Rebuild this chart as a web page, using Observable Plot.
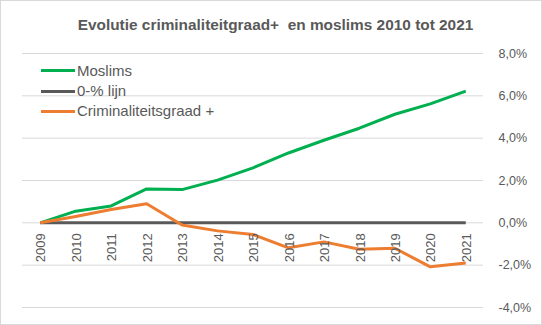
<!DOCTYPE html>
<html>
<head>
<meta charset="utf-8">
<script src="https://cdn.jsdelivr.net/npm/d3@7"></script>
<script src="https://cdn.jsdelivr.net/npm/@observablehq/plot@0.6"></script>
<style>
  body { margin: 0; background: white; }
  #wrap { position: relative; width: 542px; height: 325px; overflow: hidden; background: white; font-family: "Liberation Sans", Arial, sans-serif; }
  #title { position: absolute; left: 9px; width: 533px; top: 16px; text-align: center; font-weight: bold; font-size: 15.4px; color: #595959; white-space: nowrap; }
  #chart { position: absolute; left: 0; top: 40px; }
  .lg { position: absolute; left: 41px; font-size: 15px; color: #595959; white-space: nowrap; line-height: normal; }
  .lg span.sw { display: inline-block; width: 34px; height: 3px; vertical-align: middle; margin-right: 2px; position: relative; top: -1px; }
  #border { position: absolute; left: 0; top: 0; width: 542px; height: 325px; box-sizing: border-box; border: 1px solid #d9d9d9; pointer-events: none; }
</style>
</head>
<body>
<div id="wrap">
  <div id="title">Evolutie criminaliteitgraad+&nbsp; en moslims 2010 tot 2021</div>
  <div id="chart"></div>
  <div id="legend"></div>
  <div id="border"></div>
</div>
<script>
const years = ["2009","2010","2011","2012","2013","2014","2015","2016","2017","2018","2019","2020","2021"];
const moslims = [0, 0.55, 0.8, 1.6, 1.57, 2.02, 2.6, 3.3, 3.9, 4.47, 5.13, 5.62, 6.22];
const nulLijn = [0, 0, 0, 0, 0, 0, 0, 0, 0, 0, 0, 0, 0];
const criminaliteit = [0, 0.3, 0.63, 0.9, -0.1, -0.38, -0.55, -1.18, -0.9, -1.25, -1.2, -2.08, -1.9];
const yTicks = [-4, -2, 0, 2, 4, 6, 8];
const seriesNames = ["Moslims", "0-% lijn", "Criminaliteitsgraad +"];
const seriesColors = ["#00B050", "#595959", "#ED7D31"];

const seriesValues = [moslims, nulLijn, criminaliteit];
const rows = [];
seriesNames.forEach((s, i) => years.forEach((yr, j) => rows.push({series: s, year: yr, value: seriesValues[i][j]})));

const fmt = d => d.toFixed(1).replace(".", ",") + "%";

const chart = Plot.plot({
  width: 542,
  height: 285,
  marginTop: 13,
  marginBottom: 18,
  marginLeft: 22,
  marginRight: 59,
  x: {type: "point", domain: years, padding: 0.5, round: false, axis: null},
  y: {domain: [-4, 8], axis: null},
  color: {domain: seriesNames, range: seriesColors},
  style: {fontFamily: "'Liberation Sans', Arial, sans-serif", fontSize: "12.5px", color: "#595959", background: "white", overflow: "visible"},
  marks: [
    Plot.ruleY(yTicks, {stroke: "#d9d9d9", strokeWidth: 1}),
    Plot.axisY({anchor: "right", ticks: yTicks, tickSize: 0, tickPadding: 15, tickFormat: fmt, label: null, fill: "#595959", fontSize: 12.5}),
    Plot.line(rows, {x: "year", y: "value", z: "series", stroke: "series", strokeWidth: 3, strokeLinejoin: "round", strokeLinecap: "butt"}),
    Plot.text(years, {x: d => d, y: d => 0, text: d => d, rotate: -90, textAnchor: "end", lineAnchor: "middle", dy: 10.5, dx: 1, fill: "#595959", fontSize: 13})
  ]
});
document.getElementById("chart").appendChild(chart);

const legend = document.getElementById("legend");
const baselines = [75.5, 95.7, 116];
seriesNames.forEach((name, i) => {
  const row = document.createElement("div");
  row.className = "lg";
  row.style.top = (baselines[i] - 13.6) + "px";
  const sw = document.createElement("span");
  sw.className = "sw";
  sw.style.background = seriesColors[i];
  row.appendChild(sw);
  row.appendChild(document.createTextNode(name));
  legend.appendChild(row);
});
</script>
</body>
</html>
